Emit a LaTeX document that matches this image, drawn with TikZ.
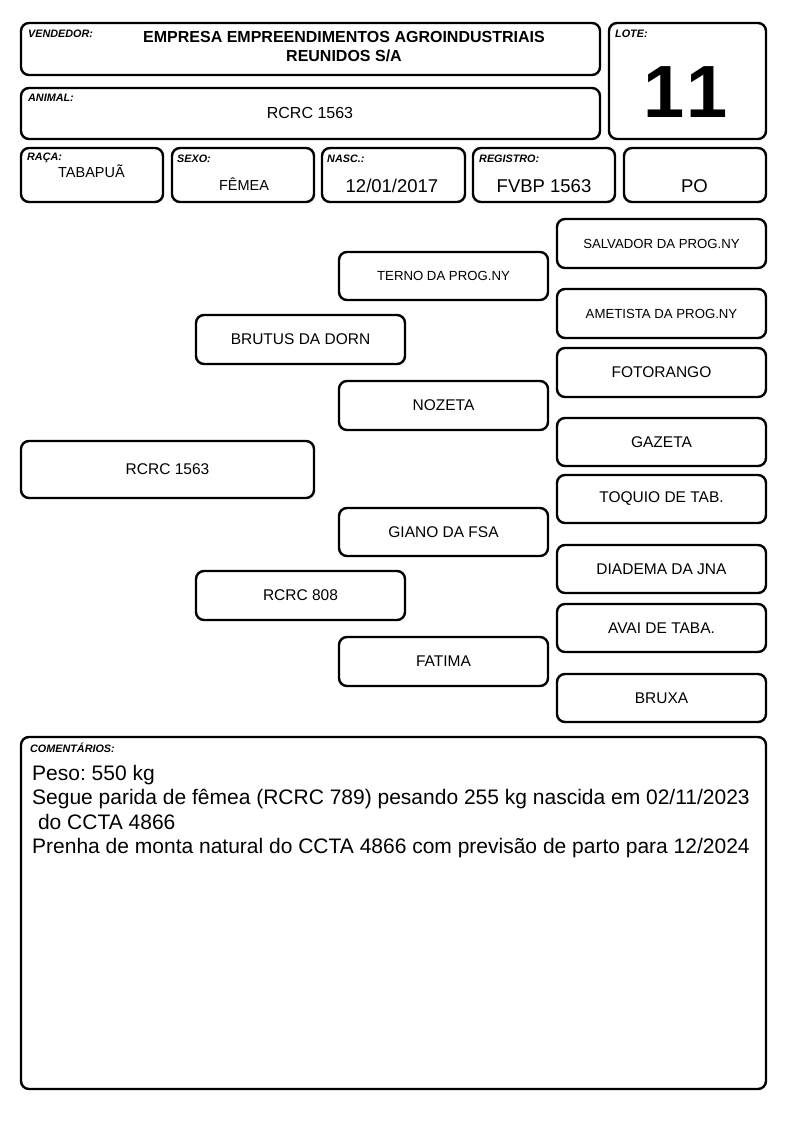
\documentclass[tikz,border=0pt]{standalone}
\usepackage{fontspec}
\setmainfont{Liberation Sans}
\frenchspacing
\begin{document}
\begin{tikzpicture}[x=1pt,y=-1pt,
  box/.style={draw, line width=2.4pt, rounded corners=8pt, inner sep=0pt, outer sep=0pt, align=center, fill=white},
  lbl/.style={anchor=north west, inner sep=0pt, font=\fontsize{10.8}{12}\selectfont\bfseries\itshape},
  ped/.style={font=\fontsize{15.5}{18}\selectfont},
  pedsm/.style={font=\fontsize{13.2}{15}\selectfont},
  val/.style={font=\fontsize{18.5}{21}\selectfont}]
\useasboundingbox (0,0) rectangle (794,1123);
% header
\node[box, minimum width=579pt, minimum height=52pt] (vend) at (310.5,49) {};
\node[lbl] (vendl) at (28,30) {VENDEDOR:};
\node[align=center, inner sep=0pt, font=\fontsize{16}{19}\selectfont\bfseries] (vendv) at (344,46.5) {EMPRESA EMPREENDIMENTOS AGROINDUSTRIAIS\\REUNIDOS S/A};
\node[box, minimum width=157pt, minimum height=116pt] (lote) at (687.5,81) {};
\node[lbl] (lotel) at (615,30) {LOTE:};
\node[inner sep=0pt, font=\fontsize{74}{80}\selectfont\bfseries] (lotev) at (686,92) {1\kern2pt 1};
\node[box, minimum width=579pt, minimum height=51pt] (anim) at (310.5,113.5) {};
\node[lbl] (animl) at (28,94) {ANIMAL:};
\node[inner sep=0pt, font=\fontsize{16}{18}\selectfont] (animv) at (310,113) {RCRC 1563};
% row of fields
\node[box, minimum width=142pt, minimum height=54pt] (raca) at (92,175) {};
\node[lbl] (racal) at (27,153) {RAÇA:};
\node[inner sep=0pt, font=\fontsize{14.5}{17}\selectfont] (racav) at (91.5,171) {TABAPUÃ};
\node[box, minimum width=142pt, minimum height=54pt] (sexo) at (243,175) {};
\node[lbl] (sexol) at (177,155) {SEXO:};
\node[inner sep=0pt, font=\fontsize{14.5}{17}\selectfont] (sexov) at (244,184) {FÊMEA};
\node[box, minimum width=143pt, minimum height=54pt] (nasc) at (393.5,175) {};
\node[lbl] (nascl) at (327,155) {NASC.:};
\node[inner sep=0pt, val] (nascv) at (392,186) {12/01/2017};
\node[box, minimum width=142pt, minimum height=54pt] (reg) at (544,175) {};
\node[lbl] (regl) at (479,155) {REGISTRO:};
\node[inner sep=0pt, val] (regv) at (544,186) {FVBP 1563};
\node[box, minimum width=142pt, minimum height=54pt] (po) at (695,175) {};
\node[inner sep=0pt, val] (pov) at (694.5,186) {PO};
% pedigree
\node[box, pedsm, minimum width=209pt, minimum height=49pt] (salv) at (661.5,243.5) {SALVADOR DA PROG.NY};
\node[box, pedsm, minimum width=209pt, minimum height=48pt] (terno) at (443.5,276) {TERNO DA PROG.NY};
\node[box, pedsm, minimum width=209pt, minimum height=49pt] (amet) at (661.5,313.5) {AMETISTA DA PROG.NY};
\node[box, ped, minimum width=209pt, minimum height=49pt] (brutus) at (300.5,339.5) {BRUTUS DA DORN};
\node[box, ped, minimum width=209pt, minimum height=49pt] (foto) at (661.5,372.5) {FOTORANGO};
\node[box, ped, minimum width=209pt, minimum height=49pt] (nozeta) at (443.5,405.5) {NOZETA};
\node[box, ped, minimum width=209pt, minimum height=48pt] (gazeta) at (661.5,442) {GAZETA};
\node[box, ped, minimum width=293pt, minimum height=57pt] (rcrc) at (167.5,469.5) {RCRC 1563};
\node[box, ped, minimum width=209pt, minimum height=48pt] (toquio) at (661.5,499) {TOQUIO DE TAB.};
\node[box, ped, minimum width=209pt, minimum height=48pt] (giano) at (443.5,532) {GIANO DA FSA};
\node[box, ped, minimum width=209pt, minimum height=48pt] (diadema) at (661.5,569) {DIADEMA DA JNA};
\node[box, ped, minimum width=209pt, minimum height=49pt] (r808) at (300.5,595.5) {RCRC 808};
\node[box, ped, minimum width=209pt, minimum height=48pt] (avai) at (661.5,628) {AVAI DE TABA.};
\node[box, ped, minimum width=209pt, minimum height=49pt] (fatima) at (443.5,661.5) {FATIMA};
\node[box, ped, minimum width=209pt, minimum height=48pt] (bruxa) at (661.5,698) {BRUXA};
% comments
\node[box, minimum width=745pt, minimum height=352pt] (com) at (393.5,913) {};
\node[lbl] (coml) at (30,743) {COMENTÁRIOS:};
\node[anchor=north west, inner sep=0pt, align=left, font=\fontsize{21}{24.4}\selectfont] (comv) at (32,765) {Peso: 550 kg\\Segue parida de fêmea (RCRC 789) pesando 255 kg nascida em 02/11/2023\\\ do CCTA 4866\\Prenha de monta natural do CCTA 4866 com previsão de parto para 12/2024};
\end{tikzpicture}
\end{document}
